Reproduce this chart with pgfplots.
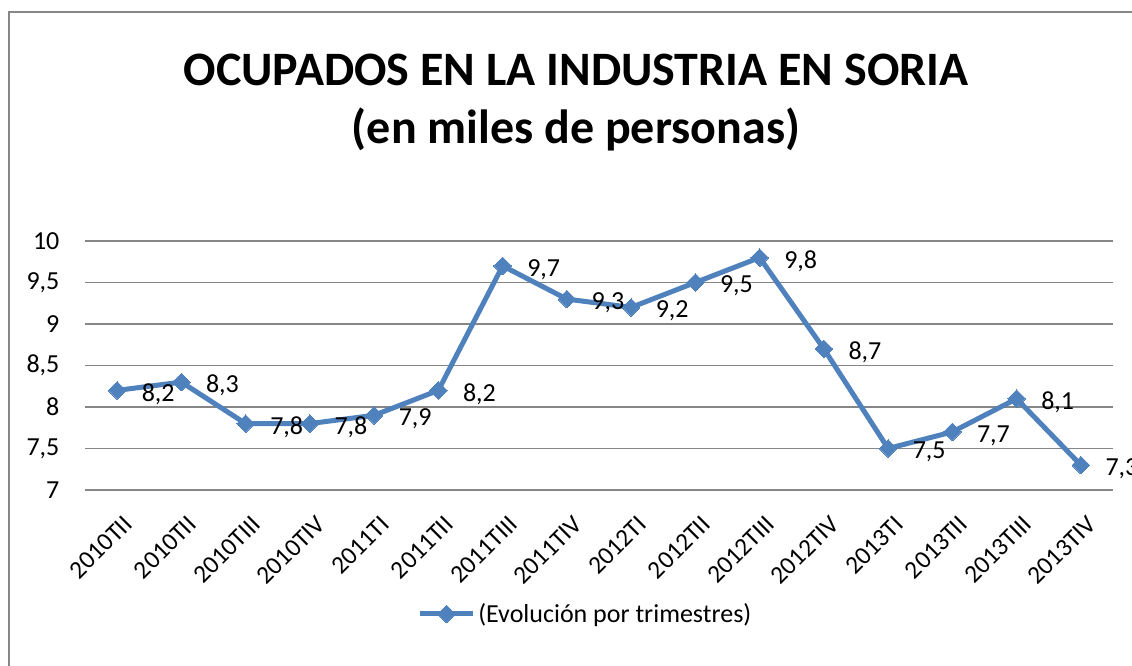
\documentclass[border=0pt]{standalone}
\usepackage{pgfplots}
\pgfplotsset{compat=1.18}
\usepackage{fontspec}
\setmainfont{Carlito}
\definecolor{serie}{HTML}{4F81BD}
\definecolor{gridgray}{HTML}{868686}
\pgfplotstableread{
x y lab
0 8.2 8,2
1 8.3 8,3
2 7.8 7,8
3 7.8 7,8
4 7.9 7,9
5 8.2 8,2
6 9.7 9,7
7 9.3 9,3
8 9.2 9,2
9 9.5 9,5
10 9.8 9,8
11 8.7 8,7
12 7.5 7,5
13 7.7 7,7
14 8.1 8,1
15 7.3 7,3
}\datatable
\begin{document}
\begin{tikzpicture}
\useasboundingbox (0,0) rectangle (849pt,499.5pt);
\draw[gridgray, line width=1.1pt] (6.75pt,-5pt) -- (6.75pt,490.4pt) -- (860pt,490.4pt);
\node[font=\bfseries\fontsize{36}{40}\selectfont, anchor=base] at (432pt,435.5pt) {OCUPADOS EN LA INDUSTRIA EN SORIA};
\node[font=\bfseries\fontsize{36}{40}\selectfont, anchor=base] at (432pt,391.5pt) {(en miles de personas)};
\begin{axis}[
  at={(63.75pt,132pt)}, anchor=south west,
  width=771pt, height=186.75pt, scale only axis,
  xmin=-0.5, xmax=15.5, ymin=7, ymax=10,
  ytick={7,7.5,...,10},
  xtick={0,...,15},
  xticklabels={2010TII,2010TII,2010TIII,2010TIV,2011TI,2011TII,2011TIII,2011TIV,2012TI,2012TII,2012TIII,2012TIV,2013TI,2013TII,2013TIII,2013TIV},
  axis line style={draw=none},
  tick style={draw=none},
  ymajorgrids, xmajorgrids=false, grid style={gridgray, line width=1.1pt},
  yticklabel style={font=\fontsize{19.5}{22}\selectfont, inner sep=0pt, xshift=-19pt},
  xticklabel style={font=\fontsize{19}{22}\selectfont, inner sep=0pt, anchor=north east, xshift=3.75pt, yshift=-18pt, rotate=45},
  /pgf/number format/use comma,
  /pgf/number format/assume math mode=true,
  clip=false,
  legend style={at={(0.487,-0.498)}, anchor=center, draw=none, fill=none, font=\fontsize{19.5}{22}\selectfont, inner sep=0pt},
  legend image code/.code={\draw[mark repeat=2,mark phase=2] plot coordinates {(0pt,0pt)(20pt,0pt)(40pt,0pt)};},
]
\addplot[serie, line width=3.75pt, mark=square*, mark size=4.7pt, mark options={rotate=45, line width=0pt},
  nodes near coords, point meta=explicit symbolic,
  every node near coord/.append style={anchor=west, inner sep=0pt, xshift=18.5pt, yshift=-2.7pt, font=\fontsize{19.5}{22}\selectfont, text=black}]
  table[x=x, y=y, meta=lab]{\datatable};
\addlegendentry{(Evolución por trimestres)}
\end{axis}
\end{tikzpicture}
\end{document}
